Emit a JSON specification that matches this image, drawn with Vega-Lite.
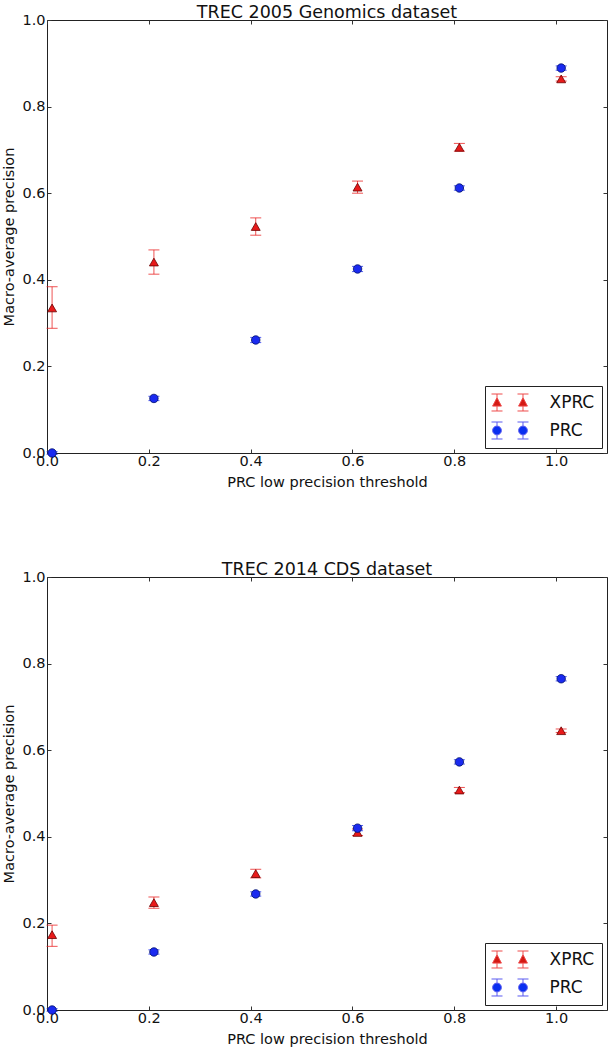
{
  "$schema": "https://vega.github.io/schema/vega-lite/v6.json",
  "padding": {"left": 1, "top": 3, "right": 0, "bottom": 0},
  "datasets": {
    "top": [
      {"series": "XPRC", "x": 0.01, "y": 0.335, "lo": 0.288, "hi": 0.384},
      {"series": "XPRC", "x": 0.21, "y": 0.441, "lo": 0.413, "hi": 0.469},
      {"series": "XPRC", "x": 0.41, "y": 0.523, "lo": 0.503, "hi": 0.543},
      {"series": "XPRC", "x": 0.61, "y": 0.614, "lo": 0.600, "hi": 0.628},
      {"series": "XPRC", "x": 0.81, "y": 0.706, "lo": 0.697, "hi": 0.715},
      {"series": "XPRC", "x": 1.01, "y": 0.864, "lo": 0.859, "hi": 0.869},
      {"series": "PRC", "x": 0.01, "y": 0.0, "lo": -0.003, "hi": 0.003},
      {"series": "PRC", "x": 0.21, "y": 0.126, "lo": 0.121, "hi": 0.131},
      {"series": "PRC", "x": 0.41, "y": 0.261, "lo": 0.255, "hi": 0.267},
      {"series": "PRC", "x": 0.61, "y": 0.425, "lo": 0.419, "hi": 0.431},
      {"series": "PRC", "x": 0.81, "y": 0.612, "lo": 0.607, "hi": 0.617},
      {"series": "PRC", "x": 1.01, "y": 0.889, "lo": 0.884, "hi": 0.894}
    ],
    "bottom": [
      {"series": "XPRC", "x": 0.01, "y": 0.174, "lo": 0.147, "hi": 0.196},
      {"series": "XPRC", "x": 0.21, "y": 0.248, "lo": 0.235, "hi": 0.261},
      {"series": "XPRC", "x": 0.41, "y": 0.315, "lo": 0.305, "hi": 0.325},
      {"series": "XPRC", "x": 0.61, "y": 0.41, "lo": 0.403, "hi": 0.418},
      {"series": "XPRC", "x": 0.81, "y": 0.508, "lo": 0.502, "hi": 0.514},
      {"series": "XPRC", "x": 1.01, "y": 0.645, "lo": 0.641, "hi": 0.649},
      {"series": "PRC", "x": 0.01, "y": 0.0, "lo": -0.003, "hi": 0.003},
      {"series": "PRC", "x": 0.21, "y": 0.134, "lo": 0.129, "hi": 0.139},
      {"series": "PRC", "x": 0.41, "y": 0.268, "lo": 0.263, "hi": 0.273},
      {"series": "PRC", "x": 0.61, "y": 0.42, "lo": 0.414, "hi": 0.426},
      {"series": "PRC", "x": 0.81, "y": 0.573, "lo": 0.568, "hi": 0.578},
      {"series": "PRC", "x": 1.01, "y": 0.765, "lo": 0.760, "hi": 0.770}
    ]
  },
  "vconcat": [
    {
      "title": {"text": "TREC 2005 Genomics dataset", "fontSize": 17.5, "fontWeight": "normal", "offset": -9},
      "width": 560,
      "height": 433,
      "data": {"name": "top"},
      "layer": [
        {
          "mark": {"type": "rule", "strokeWidth": 1, "opacity": 0.75},
          "encoding": {
            "x": {"field": "x", "type": "quantitative", "scale": {"domain": [0, 1.1], "nice": false, "zero": false},
              "axis": {"orient": "bottom", "values": [0, 0.2, 0.4, 0.6, 0.8, 1.0], "format": ".1f", "title": "PRC low precision threshold", "labelPadding": 5, "titlePadding": 8}},
            "y": {"field": "lo", "type": "quantitative", "scale": {"domain": [0, 1], "nice": false, "zero": false},
              "axis": {"orient": "left", "values": [0, 0.2, 0.4, 0.6, 0.8, 1.0], "format": ".1f", "title": "Macro-average precision", "labelPadding": 6}},
            "y2": {"field": "hi"},
            "color": {"field": "series", "type": "nominal", "scale": {"domain": ["PRC", "XPRC"], "range": ["#1a2af0", "#e81a1a"]}, "legend": null}
          }
        },
        {
          "mark": {"type": "tick", "orient": "horizontal", "size": 11, "thickness": 1, "opacity": 0.75},
          "encoding": {
            "x": {"field": "x", "type": "quantitative",
              "axis": {"orient": "top", "values": [0, 0.2, 0.4, 0.6, 0.8, 1.0], "labels": false, "title": null}},
            "y": {"field": "lo", "type": "quantitative",
              "axis": {"orient": "right", "values": [0, 0.2, 0.4, 0.6, 0.8, 1.0], "labels": false, "title": null}},
            "color": {"field": "series", "type": "nominal", "legend": null}
          }
        },
        {
          "mark": {"type": "tick", "orient": "horizontal", "size": 11, "thickness": 1, "opacity": 0.75},
          "encoding": {
            "x": {"field": "x", "type": "quantitative", "axis": null},
            "y": {"field": "hi", "type": "quantitative", "axis": null},
            "color": {"field": "series", "type": "nominal", "legend": null}
          }
        },
        {
          "transform": [{"filter": "datum.series === 'XPRC'"}],
          "mark": {"type": "point", "shape": "triangle-up", "filled": true, "size": 80, "opacity": 1, "stroke": "#6a0000", "strokeWidth": 0.8},
          "encoding": {
            "x": {"field": "x", "type": "quantitative", "axis": null},
            "y": {"field": "y", "type": "quantitative", "axis": null},
            "color": {"field": "series", "type": "nominal", "legend": null}
          }
        },
        {
          "transform": [{"filter": "datum.series === 'PRC'"}],
          "mark": {"type": "point", "shape": "circle", "filled": true, "size": 72, "opacity": 1, "stroke": "#00106a", "strokeWidth": 0.8},
          "encoding": {
            "x": {"field": "x", "type": "quantitative", "axis": null},
            "y": {"field": "y", "type": "quantitative", "axis": null},
            "color": {"field": "series", "type": "nominal", "legend": null}
          }
        },
        {
          "mark": {"type": "point", "filled": true, "opacity": 0, "strokeWidth": 1, "size": 1},
          "encoding": {
            "x": {"field": "x", "type": "quantitative", "axis": null},
            "y": {"field": "y", "type": "quantitative", "axis": null},
            "fill": {"field": "series", "type": "nominal", "scale": {"domain": ["XPRC", "PRC"], "range": ["#d41a14", "#0a2ff0"]},
              "legend": {"orient": "bottom-right", "offset": 5, "title": null, "strokeColor": "#222", "fillColor": "white", "padding": 7, "cornerRadius": 0, "labelFontSize": 17, "labelColor": "#111", "labelOffset": 30, "symbolOffset": 8.5, "symbolSize": 324, "symbolStrokeWidth": 1, "symbolOpacity": 1, "symbolFillColor": "#888888", "rowPadding": 7, "labelFont": "DejaVu Sans"}},
            "stroke": {"field": "series", "type": "nominal", "scale": {"domain": ["XPRC", "PRC"], "range": ["#ee4a4a", "#5a5af0"]},
              "legend": {"orient": "bottom-right", "offset": 5, "title": null, "strokeColor": "#222", "fillColor": "white", "padding": 7, "cornerRadius": 0, "labelFontSize": 17, "labelColor": "#111", "labelOffset": 30, "symbolOffset": 8.5, "symbolSize": 324, "symbolStrokeWidth": 1, "symbolOpacity": 1, "symbolFillColor": "#888888", "rowPadding": 7, "labelFont": "DejaVu Sans"}},
            "shape": {"field": "series", "type": "nominal", "scale": {"domain": ["XPRC", "PRC"], "range": [
              "M-2.055,-0.944H-0.833M-2.055,0.944H-0.833M-1.444,-0.944V-0.533M-1.444,0.4V0.944M-1.933,0.4L-1.444,-0.533L-0.955,0.4ZM0.833,-0.944H2.055M0.833,0.944H2.055M1.444,-0.944V-0.533M1.444,0.4V0.944M0.955,0.4L1.444,-0.533L1.933,0.4Z",
              "M-2.055,-0.944H-0.833M-2.055,0.944H-0.833M-1.444,-0.944V-0.489M-1.444,0.489V0.944M-1.933,0A0.489,0.489 0 1,0 -0.955,0A0.489,0.489 0 1,0 -1.933,0ZM0.833,-0.944H2.055M0.833,0.944H2.055M1.444,-0.944V-0.489M1.444,0.489V0.944M0.955,0A0.489,0.489 0 1,0 1.933,0A0.489,0.489 0 1,0 0.955,0Z"
            ]},
              "legend": {"orient": "bottom-right", "offset": 5, "title": null, "strokeColor": "#222", "fillColor": "white", "padding": 7, "cornerRadius": 0, "labelFontSize": 17, "labelColor": "#111", "labelOffset": 30, "symbolOffset": 8.5, "symbolSize": 324, "symbolStrokeWidth": 1, "symbolOpacity": 1, "symbolFillColor": "#888888", "rowPadding": 7, "labelFont": "DejaVu Sans"}}
          }
        }
      ],
      "resolve": {"axis": {"x": "independent", "y": "independent"}}
    },
    {
      "title": {"text": "TREC 2014 CDS dataset", "fontSize": 17.5, "fontWeight": "normal", "offset": -9},
      "width": 560,
      "height": 433,
      "data": {"name": "bottom"},
      "layer": [
        {
          "mark": {"type": "rule", "strokeWidth": 1, "opacity": 0.75},
          "encoding": {
            "x": {"field": "x", "type": "quantitative", "scale": {"domain": [0, 1.1], "nice": false, "zero": false},
              "axis": {"orient": "bottom", "values": [0, 0.2, 0.4, 0.6, 0.8, 1.0], "format": ".1f", "title": "PRC low precision threshold", "labelPadding": 5, "titlePadding": 8}},
            "y": {"field": "lo", "type": "quantitative", "scale": {"domain": [0, 1], "nice": false, "zero": false},
              "axis": {"orient": "left", "values": [0, 0.2, 0.4, 0.6, 0.8, 1.0], "format": ".1f", "title": "Macro-average precision", "labelPadding": 6}},
            "y2": {"field": "hi"},
            "color": {"field": "series", "type": "nominal", "scale": {"domain": ["PRC", "XPRC"], "range": ["#1a2af0", "#e81a1a"]}, "legend": null}
          }
        },
        {
          "mark": {"type": "tick", "orient": "horizontal", "size": 11, "thickness": 1, "opacity": 0.75},
          "encoding": {
            "x": {"field": "x", "type": "quantitative",
              "axis": {"orient": "top", "values": [0, 0.2, 0.4, 0.6, 0.8, 1.0], "labels": false, "title": null}},
            "y": {"field": "lo", "type": "quantitative",
              "axis": {"orient": "right", "values": [0, 0.2, 0.4, 0.6, 0.8, 1.0], "labels": false, "title": null}},
            "color": {"field": "series", "type": "nominal", "legend": null}
          }
        },
        {
          "mark": {"type": "tick", "orient": "horizontal", "size": 11, "thickness": 1, "opacity": 0.75},
          "encoding": {
            "x": {"field": "x", "type": "quantitative", "axis": null},
            "y": {"field": "hi", "type": "quantitative", "axis": null},
            "color": {"field": "series", "type": "nominal", "legend": null}
          }
        },
        {
          "transform": [{"filter": "datum.series === 'XPRC'"}],
          "mark": {"type": "point", "shape": "triangle-up", "filled": true, "size": 80, "opacity": 1, "stroke": "#6a0000", "strokeWidth": 0.8},
          "encoding": {
            "x": {"field": "x", "type": "quantitative", "axis": null},
            "y": {"field": "y", "type": "quantitative", "axis": null},
            "color": {"field": "series", "type": "nominal", "legend": null}
          }
        },
        {
          "transform": [{"filter": "datum.series === 'PRC'"}],
          "mark": {"type": "point", "shape": "circle", "filled": true, "size": 72, "opacity": 1, "stroke": "#00106a", "strokeWidth": 0.8},
          "encoding": {
            "x": {"field": "x", "type": "quantitative", "axis": null},
            "y": {"field": "y", "type": "quantitative", "axis": null},
            "color": {"field": "series", "type": "nominal", "legend": null}
          }
        },
        {
          "mark": {"type": "point", "filled": true, "opacity": 0, "strokeWidth": 1, "size": 1},
          "encoding": {
            "x": {"field": "x", "type": "quantitative", "axis": null},
            "y": {"field": "y", "type": "quantitative", "axis": null},
            "fill": {"field": "series", "type": "nominal", "scale": {"domain": ["XPRC", "PRC"], "range": ["#d41a14", "#0a2ff0"]},
              "legend": {"orient": "bottom-right", "offset": 5, "title": null, "strokeColor": "#222", "fillColor": "white", "padding": 7, "cornerRadius": 0, "labelFontSize": 17, "labelColor": "#111", "labelOffset": 30, "symbolOffset": 8.5, "symbolSize": 324, "symbolStrokeWidth": 1, "symbolOpacity": 1, "symbolFillColor": "#888888", "rowPadding": 7, "labelFont": "DejaVu Sans"}},
            "stroke": {"field": "series", "type": "nominal", "scale": {"domain": ["XPRC", "PRC"], "range": ["#ee4a4a", "#5a5af0"]},
              "legend": {"orient": "bottom-right", "offset": 5, "title": null, "strokeColor": "#222", "fillColor": "white", "padding": 7, "cornerRadius": 0, "labelFontSize": 17, "labelColor": "#111", "labelOffset": 30, "symbolOffset": 8.5, "symbolSize": 324, "symbolStrokeWidth": 1, "symbolOpacity": 1, "symbolFillColor": "#888888", "rowPadding": 7, "labelFont": "DejaVu Sans"}},
            "shape": {"field": "series", "type": "nominal", "scale": {"domain": ["XPRC", "PRC"], "range": [
              "M-2.055,-0.944H-0.833M-2.055,0.944H-0.833M-1.444,-0.944V-0.533M-1.444,0.4V0.944M-1.933,0.4L-1.444,-0.533L-0.955,0.4ZM0.833,-0.944H2.055M0.833,0.944H2.055M1.444,-0.944V-0.533M1.444,0.4V0.944M0.955,0.4L1.444,-0.533L1.933,0.4Z",
              "M-2.055,-0.944H-0.833M-2.055,0.944H-0.833M-1.444,-0.944V-0.489M-1.444,0.489V0.944M-1.933,0A0.489,0.489 0 1,0 -0.955,0A0.489,0.489 0 1,0 -1.933,0ZM0.833,-0.944H2.055M0.833,0.944H2.055M1.444,-0.944V-0.489M1.444,0.489V0.944M0.955,0A0.489,0.489 0 1,0 1.933,0A0.489,0.489 0 1,0 0.955,0Z"
            ]},
              "legend": {"orient": "bottom-right", "offset": 5, "title": null, "strokeColor": "#222", "fillColor": "white", "padding": 7, "cornerRadius": 0, "labelFontSize": 17, "labelColor": "#111", "labelOffset": 30, "symbolOffset": 8.5, "symbolSize": 324, "symbolStrokeWidth": 1, "symbolOpacity": 1, "symbolFillColor": "#888888", "rowPadding": 7, "labelFont": "DejaVu Sans"}}
          }
        }
      ],
      "resolve": {"axis": {"x": "independent", "y": "independent"}}
    }
  ],
  "spacing": 70,
  "resolve": {
    "scale": {"x": "independent", "y": "independent", "color": "independent", "fill": "independent", "stroke": "independent", "shape": "independent"},
    "legend": {"fill": "independent", "stroke": "independent", "shape": "independent"}
  },
  "config": {
    "font": "DejaVu Sans",
    "view": {"stroke": "#222", "strokeWidth": 1},
    "title": {"fontSize": 17.5, "fontWeight": "normal", "color": "#111", "anchor": "middle"},
    "axis": {
      "grid": false,
      "domain": false,
      "tickSize": -4,
      "tickColor": "#333",
      "labelFontSize": 14.5,
      "labelColor": "#111",
      "labelFlush": false,
      "labelOverlap": false,
      "titleFontSize": 14.5,
      "titleFontWeight": "normal",
      "titleColor": "#111",
      "titlePadding": 5
    }
  }
}
